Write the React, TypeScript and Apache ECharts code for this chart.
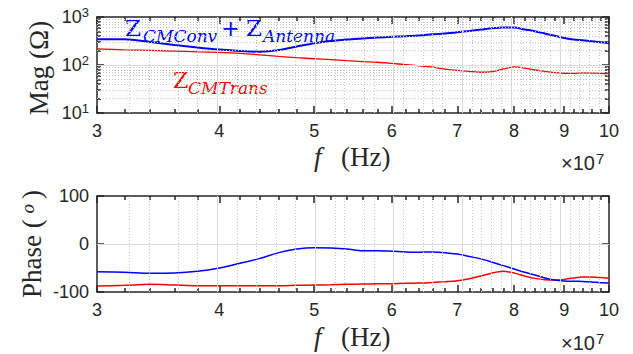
import React, { useEffect, useRef } from "react";
import * as echarts from "echarts";

// frequency in units of 1e7 Hz
const FREQ_E7 = [3.0, 3.2, 3.4, 3.6, 3.8, 4.0, 4.2, 4.4, 4.6, 4.8, 5.0, 5.2, 5.4, 5.6, 5.8, 6.0, 6.2, 6.4, 6.6, 6.8, 7.0, 7.2, 7.4, 7.6, 7.8, 8.0, 8.2, 8.4, 8.6, 8.8, 9.0, 9.2, 9.4, 9.6, 9.8, 10.0];
const MAG_CONV_ANT = [345, 343, 300, 262, 232, 210, 196, 189, 205, 243, 285, 316, 340, 357, 373, 386, 398, 412, 435, 455, 482, 513, 548, 583, 603, 603, 550, 506, 453, 405, 367, 340, 328, 314, 299, 285];
const MAG_CM_TRANS = [217, 207, 201, 195, 188, 183, 175, 163, 151, 142, 135, 129, 123, 118, 114, 108, 102, 96, 90, 82, 77.6, 74, 70.6, 72.8, 82.6, 91, 86, 78.7, 74, 69.3, 67.3, 67, 68.5, 68, 67, 66];
const PHASE_CONV_ANT = [-58, -59, -61, -60.5, -57, -50, -40, -30, -18, -10.5, -7.7, -8.5, -10.5, -14, -14, -15, -16.5, -17, -16.7, -18, -21, -26, -31, -38, -45, -52, -59, -64.6, -70.8, -75, -77, -77.7, -78, -79, -80.6, -81];
const PHASE_CM_TRANS = [-87.6, -86, -84, -85.5, -87, -87, -87, -87, -87, -86, -85.5, -85, -84, -83.5, -83, -82.7, -82, -81.5, -80, -78.5, -76.5, -72.3, -66.7, -60.4, -57, -60.4, -66.7, -71.6, -74.4, -75, -73.7, -70.8, -68.8, -68.8, -70, -71.6];

const X_MAJOR = [3, 4, 5, 6, 7, 8, 9, 10];
const X_MINOR = [3.2, 3.4, 3.6, 3.8, 4.2, 4.4, 4.6, 4.8, 5.2, 5.4, 5.6, 5.8, 6.2, 6.4, 6.6, 6.8, 7.2, 7.4, 7.6, 7.8, 8.2, 8.4, 8.6, 8.8, 9.2, 9.4, 9.6, 9.8];
const MAG_MAJOR = [10, 100, 1000];
const MAG_MINOR = [20, 30, 40, 50, 60, 70, 80, 90, 200, 300, 400, 500, 600, 700, 800, 900];
const PHASE_TICKS = [-100, 0, 100];

const lx = (v: number) => Math.log10(v);

const AX = "#262626";
const SANS = "Liberation Sans";
const SERIF = "Liberation Serif";
const MATH = "DejaVu Serif";
const axLine = { color: AX, width: 1.5 };
const majorGrid = { color: "#dcdcdc", width: 1, type: "solid" as const };
const minorGrid = { color: "#c4c4c4", width: 1, type: [1, 2] as any };

function xAxesFor(grid: number) {
  const base = { type: "value", gridIndex: grid, min: lx(3), max: lx(10), splitLine: { show: false } };
  const maj = X_MAJOR.map(lx);
  const min = X_MINOR.map(lx);
  return [
    {
      ...base, position: "bottom",
      axisLine: { show: true, onZero: false, lineStyle: axLine },
      axisTick: { show: true, inside: true, length: 7, customValues: maj, lineStyle: axLine },
      axisLabel: {
        show: true, customValues: maj, margin: 9, color: AX, fontFamily: SANS, fontSize: 18,
        formatter: (v: number) => String(Math.round(Math.pow(10, v))),
      },
    },
    {
      ...base, position: "top",
      axisLine: { show: true, onZero: false, lineStyle: axLine },
      axisTick: { show: true, inside: true, length: 7, customValues: maj, lineStyle: axLine },
      axisLabel: { show: false },
    },
    {
      ...base, position: "bottom",
      axisLine: { show: false, onZero: false },
      axisTick: { show: true, inside: true, length: 4, customValues: min, lineStyle: axLine },
      axisLabel: { show: false },
    },
    {
      ...base, position: "top",
      axisLine: { show: false, onZero: false },
      axisTick: { show: true, inside: true, length: 4, customValues: min, lineStyle: axLine },
      axisLabel: { show: false },
    },
  ];
}

function gridMarks(extra: any[]) {
  return {
    silent: true,
    symbol: ["none", "none"],
    label: { show: false },
    emphasis: { disabled: true },
    animation: false,
    data: [
      ...X_MINOR.map((v) => ({ xAxis: lx(v), lineStyle: minorGrid })),
      ...X_MAJOR.slice(1, -1).map((v) => ({ xAxis: lx(v), lineStyle: majorGrid })),
      ...extra,
    ],
  };
}

export default function App() {
  const ref = useRef<HTMLDivElement>(null);
  useEffect(() => {
    if (!ref.current) return;
    const chart = echarts.init(ref.current, undefined, { renderer: "svg" });

    const magMajor = MAG_MAJOR.map(lx);
    const magMinor = MAG_MINOR.map(lx);
    const yBaseTop = { type: "value", gridIndex: 0, min: lx(10), max: lx(1000), splitLine: { show: false } };
    const yBaseBot = { type: "value", gridIndex: 1, min: -100, max: 100, interval: 100, splitLine: { show: false } };

    const yAxes = [
      {
        ...yBaseTop, position: "left",
        axisLine: { show: true, onZero: false, lineStyle: axLine },
        axisTick: { show: true, inside: true, length: 7, customValues: magMajor, lineStyle: axLine },
        axisLabel: {
          show: true, customValues: magMajor, margin: 8,
          formatter: (v: number) => `{b|10}{s|${Math.round(v)}}`,
          rich: {
            b: { fontFamily: SANS, fontSize: 18, color: AX, lineHeight: 22 },
            s: { fontFamily: SANS, fontSize: 13, color: AX, verticalAlign: "top", lineHeight: 13 },
          },
        },
      },
      {
        ...yBaseTop, position: "right",
        axisLine: { show: true, onZero: false, lineStyle: axLine },
        axisTick: { show: true, inside: true, length: 7, customValues: magMajor, lineStyle: axLine },
        axisLabel: { show: false },
      },
      {
        ...yBaseTop, position: "left",
        axisLine: { show: false, onZero: false },
        axisTick: { show: true, inside: true, length: 4, customValues: magMinor, lineStyle: axLine },
        axisLabel: { show: false },
      },
      {
        ...yBaseTop, position: "right",
        axisLine: { show: false, onZero: false },
        axisTick: { show: true, inside: true, length: 4, customValues: magMinor, lineStyle: axLine },
        axisLabel: { show: false },
      },
      {
        ...yBaseBot, position: "left",
        axisLine: { show: true, onZero: false, lineStyle: axLine },
        axisTick: { show: true, inside: true, length: 7, customValues: PHASE_TICKS, lineStyle: axLine },
        axisLabel: { show: true, customValues: PHASE_TICKS, margin: 8, color: AX, fontFamily: SANS, fontSize: 18 },
      },
      {
        ...yBaseBot, position: "right",
        axisLine: { show: true, onZero: false, lineStyle: axLine },
        axisTick: { show: true, inside: true, length: 7, customValues: PHASE_TICKS, lineStyle: axLine },
        axisLabel: { show: false },
      },
    ];

    const pts = (ys: number[], tf: (v: number) => number) => FREQ_E7.map((f, i) => [lx(f), tf(ys[i])]);
    const id = (v: number) => v;

    const lineSeries = (name: string, data: any, xi: number, yi: number, color: string, width: number) => ({
      type: "line", name, data, xAxisIndex: xi, yAxisIndex: yi,
      showSymbol: false, symbol: "none", smooth: 0.3, z: 3,
      lineStyle: { color, width }, silent: true,
    });

    const text = (t: string, x: number, y: number, font: string, fill: string, extra: any = {}) => ({
      type: "text", x, y, silent: true,
      style: { text: t, font, fill, align: "left", verticalAlign: "middle", textAlign: "left", textVerticalAlign: "middle", ...extra },
    });

    const expLabel = (y: number) => ({
      type: "text", x: 561, y, silent: true,
      style: {
        text: "{a|×10}{s|7}", fill: AX,
        align: "left", verticalAlign: "middle", textAlign: "left", textVerticalAlign: "middle",
        rich: {
          a: { fontFamily: SANS, fontSize: 20, fill: AX, lineHeight: 25 },
          s: { fontFamily: SANS, fontSize: 15, fill: AX, verticalAlign: "top", lineHeight: 15, padding: [0, 0, 0, 1] },
        },
      },
    });

    chart.setOption({
      animation: false,
      backgroundColor: "#ffffff",
      grid: [
        { left: 97, right: 24, top: 17, height: 96 },
        { left: 97, right: 24, top: 196, height: 96 },
      ],
      xAxis: [...xAxesFor(0), ...xAxesFor(1)],
      yAxis: yAxes,
      series: [
        {
          type: "line", name: "grid-top", xAxisIndex: 0, yAxisIndex: 0, z: 1, silent: true,
          data: [[lx(3), lx(10)]], showSymbol: false, symbol: "none", lineStyle: { opacity: 0 },
          markLine: gridMarks([
            ...magMinor.map((v) => ({ yAxis: v, lineStyle: minorGrid })),
            { yAxis: lx(100), lineStyle: majorGrid },
          ]),
        },
        lineSeries("Z_CMTrans mag", pts(MAG_CM_TRANS, lx), 0, 0, "#ff0000", 1.3),
        lineSeries("Z_CMConv + Z_Antenna mag", pts(MAG_CONV_ANT, lx), 0, 0, "#0000ff", 2),
        {
          type: "line", name: "grid-bottom", xAxisIndex: 4, yAxisIndex: 4, z: 1, silent: true,
          data: [[lx(3), -100]], showSymbol: false, symbol: "none", lineStyle: { opacity: 0 },
          markLine: gridMarks([{ yAxis: 0, lineStyle: majorGrid }]),
        },
        lineSeries("Z_CMTrans phase", pts(PHASE_CM_TRANS, id), 4, 4, "#ff0000", 1.5),
        lineSeries("Z_CMConv + Z_Antenna phase", pts(PHASE_CONV_ANT, id), 4, 4, "#0000ff", 1.5),
      ],
      graphic: [
        // annotations
        text("Z", 125, 28, `23px '${MATH}'`, "#0000ff"),
        text("CMConv", 143, 36, `italic 17px '${MATH}'`, "#0000ff"),
        text("+", 221, 28, `23px '${MATH}'`, "#0000ff"),
        text("Z", 246, 28, `23px '${MATH}'`, "#0000ff"),
        text("Antenna", 263, 36, `italic 17px '${MATH}'`, "#0000ff"),
        text("Z", 173, 80.5, `22px '${MATH}'`, "#ff0000"),
        text("CMTrans", 188, 87.5, `italic 17px '${MATH}'`, "#ff0000"),
        // x axis titles
        text("f", 314, 157, `italic 27px '${SERIF}'`, AX),
        text("(Hz)", 341, 157, `27px '${SERIF}'`, AX),
        text("f", 314, 337, `italic 27px '${SERIF}'`, AX),
        text("(Hz)", 341, 337, `27px '${SERIF}'`, AX),
        // exponent labels
        expLabel(163),
        expLabel(343),
        // y axis titles
        {
          type: "text", x: 38.5, y: 68, rotation: Math.PI / 2, silent: true,
          style: {
            text: "Mag (Ω)", font: `27px '${SERIF}'`, fill: AX,
            align: "center", verticalAlign: "middle", textAlign: "center", textVerticalAlign: "middle",
          },
        },
        {
          type: "text", x: 31.5, y: 244, rotation: Math.PI / 2, silent: true,
          style: {
            text: "{a|Phase (}{s|o}{a|)}", fill: AX,
            align: "center", verticalAlign: "middle", textAlign: "center", textVerticalAlign: "middle",
            rich: {
              a: { fontFamily: SERIF, fontSize: 27, fill: AX, lineHeight: 28 },
              s: { fontFamily: SERIF, fontStyle: "italic", fontSize: 19, fill: AX, verticalAlign: "top", lineHeight: 18, padding: [0, 5, 0, 6] },
            },
          },
        },
      ],
    });
    return () => chart.dispose();
  }, []);
  return (
    <div
      ref={ref}
      style={{ position: "fixed", left: 0, top: 0, width: 633, height: 354, background: "#fff" }}
    />
  );
}
